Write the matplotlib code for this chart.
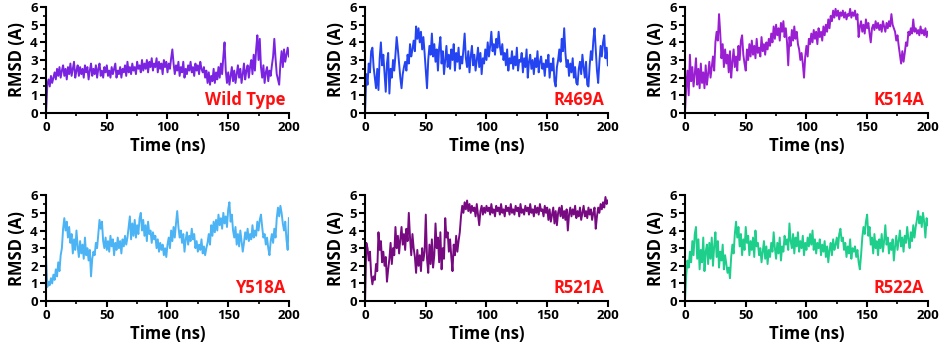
import numpy as np
import matplotlib.pyplot as plt
from matplotlib.ticker import MultipleLocator

plt.rcParams['font.family'] = ['Open Sans', 'DejaVu Sans']
plt.rcParams['font.weight'] = 'bold'

# time axis, 1 ns sampling
t = np.arange(0, 201)

wild_type = [
    0.1, 1.6, 1.9, 1.5, 2.1, 1.7, 2.0, 2.3, 1.9, 2.5,
    2.1, 2.6, 2.0, 2.4, 2.7, 2.1, 2.5, 1.9, 2.6, 2.2,
    2.8, 2.1, 2.5, 2.9, 2.0, 2.4, 2.7, 2.1, 2.6, 2.2,
    2.5, 2.0, 2.7, 2.3, 2.6, 1.9, 2.4, 2.8, 2.1, 2.5,
    2.2, 2.7, 2.0, 2.5, 2.8, 2.1, 2.4, 2.0, 2.6, 2.3,
    2.7, 2.1, 2.4, 2.0, 2.6, 2.2, 2.5, 2.8, 2.0, 2.4,
    2.2, 2.6, 2.0, 2.5, 2.3, 2.7, 2.1, 2.9, 2.3, 2.6,
    2.2, 2.8, 2.4, 2.6, 2.2, 2.9, 2.5, 2.7, 2.3, 3.0,
    2.4, 2.8, 2.5, 3.0, 2.3, 2.9, 2.6, 3.1, 2.4, 2.8,
    2.6, 3.1, 2.3, 2.9, 2.5, 2.8, 2.2, 3.0, 2.6, 2.9,
    2.3, 2.8, 2.5, 3.1, 3.6, 2.8, 2.2, 2.7, 2.4, 2.9,
    2.1, 2.6, 2.3, 2.9, 2.0, 2.5, 2.2, 2.7, 2.4, 2.9,
    2.3, 2.6, 2.1, 2.8, 2.4, 2.7, 2.2, 2.9, 2.5, 2.3,
    2.6, 2.0, 2.4, 1.7, 2.3, 1.6, 2.1, 1.8, 2.5, 1.7,
    2.3, 1.9, 2.6, 2.0, 2.8, 2.2, 3.2, 4.0, 2.4, 1.7,
    2.3, 1.6, 2.1, 2.6, 1.8, 2.4, 1.7, 2.2, 2.7, 2.0,
    2.5, 1.7, 2.2, 2.8, 1.9, 2.4, 2.7, 2.0, 2.6, 3.0,
    2.2, 3.3, 2.4, 3.6, 4.4, 3.0, 4.2, 2.6, 2.0, 2.7,
    1.7, 2.3, 2.6, 1.8, 2.4, 2.1, 2.7, 3.2, 4.2, 3.1,
    2.2, 1.9, 1.6, 2.8, 3.5, 2.6, 3.6, 2.9, 3.3, 3.7, 3.2]

r469a = [
    0.1, 2.2, 1.6, 2.8, 2.3, 3.5, 3.7, 2.6, 2.0, 1.4,
    2.5, 1.3, 3.1, 4.0, 2.7, 3.3, 2.2, 1.2, 2.8, 3.4,
    1.1, 2.5, 2.0, 3.0, 2.4, 3.3, 4.3, 3.6, 2.8, 2.0,
    1.4, 2.2, 2.6, 2.9, 2.4, 3.3, 2.8, 3.9, 3.2, 3.6,
    4.1, 3.5, 4.9, 4.2, 4.8, 4.0, 4.6, 3.6, 4.3, 3.4,
    2.4, 1.4, 3.0, 3.8, 3.3, 4.5, 3.2, 3.9, 2.9, 3.6,
    2.4, 3.7, 4.3, 2.8, 3.5, 2.2, 3.0, 3.8, 2.6, 3.3,
    2.5, 3.6, 3.0, 3.9, 2.4, 3.4, 2.9, 3.7, 2.5, 3.2,
    2.8, 3.6, 4.5, 3.1, 2.6, 3.5, 2.3, 3.2, 3.8, 2.7,
    3.3, 2.4, 3.0, 3.7, 2.6, 3.4, 2.2, 3.1, 2.8, 3.6,
    3.0, 4.0, 3.2, 3.8, 4.6, 3.5, 3.9, 3.3, 4.2, 3.7,
    4.6, 3.8, 3.3, 3.9, 3.0, 3.4, 2.7, 3.6, 2.4, 3.1,
    2.8, 3.5, 2.5, 3.2, 2.7, 3.7, 2.4, 3.0, 2.9, 3.4,
    2.3, 3.1, 2.6, 3.6, 2.0, 2.9, 3.3, 2.5, 3.0, 2.2,
    3.1, 2.6, 3.5, 2.3, 2.9, 3.2, 2.5, 2.8, 2.1, 3.0,
    2.6, 3.3, 2.0, 2.8, 2.4, 3.1, 1.8, 1.5, 2.6, 3.0,
    3.6, 2.9, 4.2, 3.5, 4.8, 3.4, 2.6, 3.0, 2.1, 2.8,
    2.3, 3.1, 2.0, 2.6, 1.7, 1.6, 2.5, 2.9, 2.2, 3.3,
    2.6, 2.0, 2.9, 1.6, 1.5, 2.7, 3.5, 3.0, 4.1, 4.8,
    3.6, 2.4, 1.7, 2.9, 3.8, 3.2, 4.0, 4.4, 3.1, 3.7, 2.7]

k514a = [
    0.1, 1.5, 2.4, 1.0, 3.3, 1.8, 2.6, 1.5, 2.2, 3.1,
    1.6, 2.5, 1.4, 2.8, 1.7, 2.3, 1.4, 2.7, 1.6, 2.2,
    2.9, 2.0, 2.6, 3.2, 2.4, 4.0, 4.6, 4.1, 5.6, 4.5,
    3.1, 3.9, 2.6, 3.6, 2.8, 3.3, 2.3, 3.5, 2.0, 2.9,
    3.6, 2.6, 3.2, 2.4, 3.8, 3.0, 4.1, 4.4, 3.3, 2.8,
    2.4, 3.6, 3.0, 3.9, 3.2, 4.1, 3.3, 3.8, 3.1, 4.2,
    3.4, 3.7, 3.2, 4.3, 3.5, 3.9, 3.3, 4.0, 3.6, 4.2,
    3.8, 4.5, 4.0, 4.9, 4.2, 5.0, 4.4, 4.8, 4.1, 5.1,
    4.6, 5.2, 4.3, 4.8, 4.0, 2.7, 4.3, 3.8, 4.7, 4.1,
    4.9, 4.2, 4.6, 3.9, 3.6, 3.0, 3.4, 2.8, 2.0, 3.2,
    3.8, 3.2, 4.2, 3.9, 4.5, 4.0, 4.7, 4.2, 4.6, 3.9,
    4.8, 4.3, 4.6, 4.1, 4.9, 4.4, 5.0, 4.6, 5.3, 4.8,
    5.5, 5.2, 5.8, 5.4, 5.9, 5.5, 5.8, 5.3, 5.7, 5.5,
    5.8, 5.4, 5.7, 5.3, 5.6, 5.5, 5.9, 5.4, 5.7, 5.5,
    5.8, 5.3, 5.6, 4.3, 4.9, 5.2, 4.6, 5.0, 4.5, 5.3,
    4.8, 5.1, 4.5, 4.0, 4.8, 5.0, 4.7, 5.2, 4.8, 5.1,
    4.7, 5.0, 4.6, 5.2, 4.9, 4.6, 5.1, 4.8, 5.2, 4.9,
    5.6, 5.0, 4.8, 4.6, 4.1, 4.4, 3.8, 3.3, 2.8, 3.5,
    2.9, 3.4, 4.0, 3.8, 4.6, 4.4, 4.8, 4.5, 5.3, 4.6,
    4.8, 4.5, 4.7, 4.4, 4.9, 4.5, 4.7, 4.4, 4.8, 4.3, 4.6]

y518a = [
    2.4, 0.8, 1.1, 0.9, 1.3, 1.0, 1.5, 1.2, 1.8, 1.4,
    2.2, 1.7, 2.6, 3.0, 4.1, 4.7, 4.0, 4.5, 3.6, 4.2,
    3.3, 3.8, 2.7, 3.5, 2.9, 4.0, 3.1, 2.5, 3.4, 2.7,
    3.2, 2.4, 3.6, 2.6, 3.0, 2.3, 2.9, 1.4, 2.4, 2.8,
    2.6, 3.3, 3.0, 3.8, 4.6, 4.1, 4.5, 3.4, 3.0, 3.6,
    2.9, 3.4, 2.8, 3.7, 3.1, 3.5, 2.6, 3.3, 2.9, 3.6,
    3.0, 3.4, 2.7, 3.5, 3.1, 3.7, 3.2, 3.6, 4.2, 4.8,
    3.5, 4.4, 3.7, 4.6, 3.6, 4.3, 3.8, 4.7, 5.0, 4.0,
    4.6, 3.7, 4.3, 3.4, 4.5, 3.8, 4.0, 3.3, 3.9, 3.5,
    3.7, 3.0, 3.5, 2.8, 3.3, 2.9, 3.2, 2.6, 3.0, 2.5,
    3.2, 3.6, 3.0, 4.0, 3.4, 4.2, 3.6, 4.4, 5.1, 4.2,
    3.6, 4.0, 3.3, 3.8, 2.8, 3.5, 3.9, 3.2, 3.7, 3.4,
    4.1, 3.5, 3.8, 3.0, 3.4, 2.8, 3.2, 2.9, 3.5, 2.7,
    3.1, 2.6, 3.0, 3.3, 3.8, 3.2, 4.3, 3.7, 4.5, 3.9,
    4.6, 4.0, 4.9, 4.3, 4.7, 4.1, 5.0, 4.4, 4.8, 4.2,
    5.2, 5.6, 4.5, 4.9, 4.0, 3.6, 4.2, 3.2, 3.8, 3.1,
    4.0, 3.4, 2.8, 3.3, 3.9, 3.5, 4.1, 3.4, 3.8, 3.5,
    4.3, 3.6, 4.0, 3.7, 4.5, 4.0, 4.6, 4.9, 4.2, 3.6,
    3.8, 3.2, 3.6, 3.0, 2.6, 3.4, 3.8, 3.3, 4.1, 3.6,
    4.7, 5.3, 4.8, 5.4, 5.0, 4.4, 4.0, 4.5, 3.5, 2.9, 4.7]

r521a = [
    0.1, 3.3, 3.0, 2.3, 2.8, 1.5, 0.95, 1.4, 1.2, 2.1,
    1.7, 3.9, 2.9, 3.4, 2.2, 2.8, 2.0, 2.5, 1.1, 1.8,
    2.4, 3.3, 2.1, 3.0, 2.6, 4.2, 3.0, 3.7, 2.7, 3.5,
    4.2, 3.2, 3.8, 2.9, 4.1, 3.4, 5.0, 3.6, 2.6, 3.8,
    3.0, 2.5, 1.6, 2.9, 2.0, 2.6, 1.7, 3.0, 2.3, 2.8,
    4.9, 2.4, 1.6, 3.2, 2.1, 3.5, 1.9, 2.6, 4.4, 3.0,
    3.6, 2.2, 3.9, 1.8, 3.0, 2.4, 4.7, 3.6, 3.9, 2.8,
    3.5, 2.5, 1.7, 3.2, 2.6, 3.7, 2.8, 3.4, 3.9, 4.8,
    5.4, 5.0, 5.6, 5.2, 5.7, 5.1, 5.5, 5.0, 5.4, 5.1,
    5.3, 4.8, 5.5, 4.9, 4.3, 5.1, 5.4, 4.9, 5.3, 5.0,
    5.4, 5.1, 5.3, 4.9, 5.5, 5.0, 5.2, 4.8, 5.4, 5.1,
    5.3, 4.9, 5.5, 5.0, 5.2, 4.8, 5.4, 5.1, 5.3, 4.9,
    5.5, 5.0, 5.2, 4.9, 5.4, 5.1, 5.3, 4.8, 5.5, 5.0,
    5.2, 4.9, 5.4, 5.1, 5.3, 4.9, 5.5, 5.0, 5.2, 4.8,
    5.4, 5.0, 5.3, 4.9, 5.5, 5.1, 5.2, 4.8, 5.4, 5.0,
    5.3, 4.6, 5.2, 4.5, 4.9, 5.3, 4.4, 5.1, 4.3, 5.0,
    5.3, 4.8, 5.4, 4.7, 5.1, 4.6, 5.2, 4.0, 4.9, 5.3,
    4.8, 5.2, 4.9, 5.4, 4.7, 5.1, 4.8, 5.3, 4.6, 5.0,
    5.4, 4.8, 5.1, 4.7, 5.3, 4.9, 5.2, 4.6, 5.0, 5.3,
    4.1, 4.8, 5.3, 5.0, 5.5, 5.2, 5.6, 5.3, 5.9, 5.5, 5.7]

r522a = [
    0.1, 1.5, 2.3, 1.9, 2.8, 2.2, 3.4, 2.6, 3.8, 4.2,
    2.4, 3.5, 1.8, 2.9, 2.2, 3.6, 1.7, 2.8, 3.2, 2.1,
    3.3, 2.4, 3.6, 2.0, 3.1, 3.9, 2.5, 3.4, 1.9, 2.8,
    2.3, 3.2, 1.8, 2.6, 2.1, 1.6, 1.9, 1.3, 2.5, 3.2,
    2.7, 3.8, 4.5, 3.6, 4.2, 3.1, 3.8, 2.6, 3.5, 2.9,
    4.2, 3.3, 3.7, 2.6, 3.4, 2.9, 3.6, 2.5, 4.0, 3.1,
    3.3, 2.6, 3.0, 2.2, 2.8, 3.4, 2.4, 3.1, 2.1, 2.9,
    2.5, 3.3, 2.8, 3.9, 3.0, 2.4, 3.3, 2.7, 3.6, 2.3,
    3.1, 2.8, 3.7, 3.2, 3.5, 2.9, 4.4, 3.4, 3.0, 3.8,
    2.7, 3.6, 3.1, 3.9, 2.8, 3.4, 3.0, 3.7, 2.6, 3.3,
    2.9, 3.6, 3.1, 3.8, 3.2, 4.0, 2.9, 3.5, 2.7, 3.3,
    3.0, 3.5, 2.6, 3.2, 2.8, 3.4, 2.5, 3.1, 2.2, 2.9,
    3.3, 2.6, 3.5, 2.9, 3.2, 3.6, 3.0, 3.8, 4.1, 3.4,
    3.6, 2.9, 3.3, 2.5, 3.1, 2.7, 3.5, 2.4, 3.0, 2.8,
    3.1, 2.5, 2.9, 2.2, 1.8, 2.6, 3.6, 4.2, 3.8, 4.5,
    4.9, 3.7, 4.2, 3.2, 3.6, 2.7, 3.8, 3.0, 3.4, 2.6,
    3.5, 3.0, 3.8, 2.8, 3.4, 4.3, 3.2, 3.6, 2.7, 3.3,
    2.9, 3.5, 2.3, 3.1, 3.7, 2.9, 3.4, 4.0, 3.1, 3.6,
    2.8, 3.7, 3.3, 4.2, 3.5, 3.0, 3.9, 3.4, 4.3, 3.6,
    4.2, 4.6, 5.1, 4.4, 4.8, 4.2, 5.0, 4.5, 3.6, 4.7, 4.3]

names = ['Wild Type', 'R469A', 'K514A', 'Y518A', 'R521A', 'R522A']
series = [wild_type, r469a, k514a, y518a, r521a, r522a]
colors = ['#7a24e2', '#2444f2', '#9a1fd2', '#4cb4f4', '#770a80', '#1ecf8c']

fig = plt.figure(figsize=(9.41, 3.53), dpi=100)
lefts = [0.049, 0.388, 0.728]
bottoms = [0.680, 0.147]
w, h = 0.258, 0.300

for i in range(6):
    r, c = divmod(i, 3)
    ax = fig.add_axes([lefts[c], bottoms[r], w, h])
    ax.plot(t, series[i], color=colors[i], lw=1.4)
    ax.set_xlim(0, 200)
    ax.set_ylim(0, 6)
    ax.xaxis.set_major_locator(MultipleLocator(50))
    ax.xaxis.set_minor_locator(MultipleLocator(25))
    ax.yaxis.set_major_locator(MultipleLocator(1))
    ax.yaxis.set_minor_locator(MultipleLocator(0.5))
    for s in ['top', 'right']:
        ax.spines[s].set_visible(False)
    for s in ['left', 'bottom']:
        ax.spines[s].set_linewidth(1.5)
    ax.tick_params(which='major', direction='out', length=4, width=1.5,
                   labelsize=9.5, pad=2)
    ax.tick_params(which='minor', direction='out', length=2.5, width=1.2)
    ax.set_xlabel('Time (ns)', fontsize=12, fontweight='bold', labelpad=2)
    ax.set_ylabel('RMSD (A)', fontsize=12, fontweight='bold', labelpad=3)
    ax.text(0.985, 0.12, names[i], transform=ax.transAxes, ha='right',
            va='center', color='#ff1010', fontsize=12, fontweight='bold')

fig.savefig('out.png', dpi=100)
